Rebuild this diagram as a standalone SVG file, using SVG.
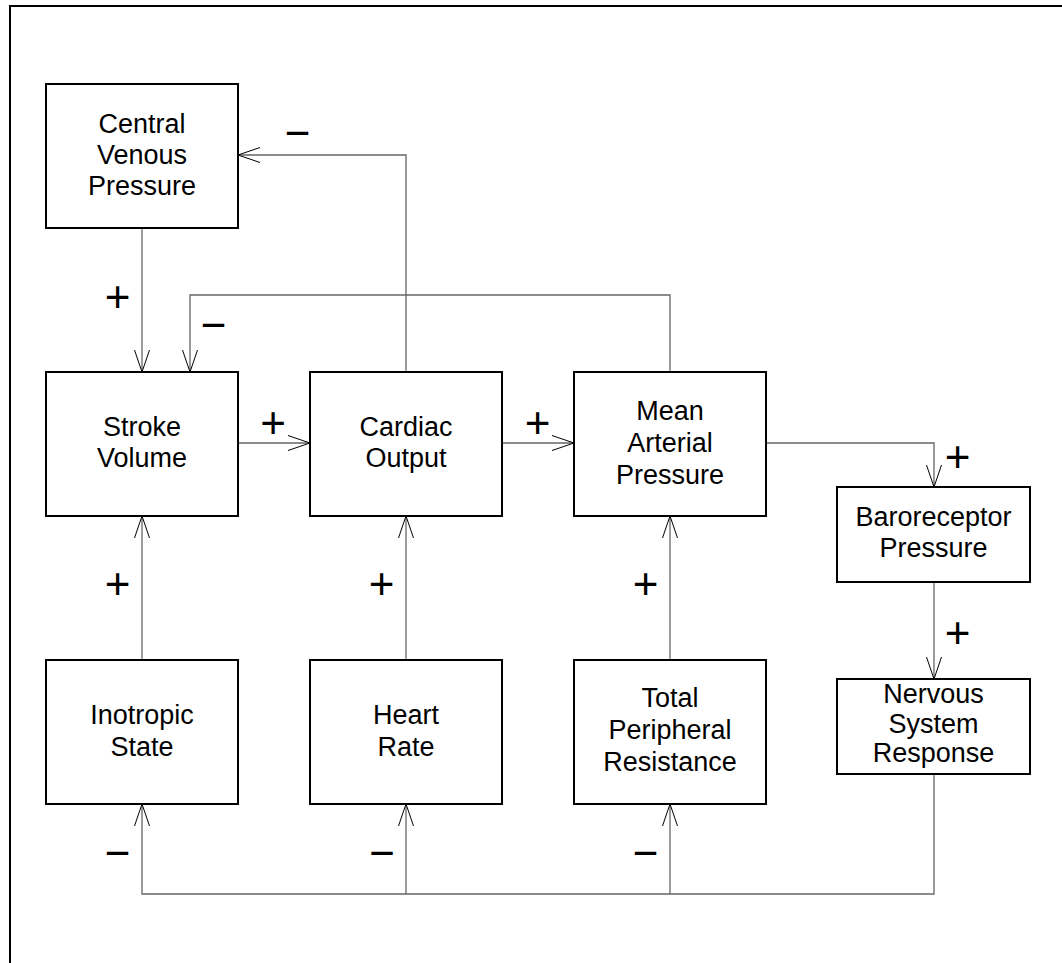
<svg xmlns="http://www.w3.org/2000/svg" width="1062" height="963" viewBox="0 0 1062 963">
<style>
.box{fill:#fff;stroke:#000;stroke-width:2}
.lbl{font-family:"Liberation Sans",Arial,sans-serif;font-size:27px;fill:#000;text-anchor:middle}
.sign{font-family:"Liberation Sans",Arial,sans-serif;font-size:44px;fill:#000;text-anchor:middle}
.conn{fill:none;stroke:#666;stroke-width:1.3}
.head{fill:none;stroke:#000;stroke-width:1}
</style>
<rect width="1062" height="963" fill="#fff"/>
<rect x="10" y="6" width="1100" height="1000" fill="none" stroke="#000" stroke-width="2"/>
<g id="connectors">
<path class="conn" d="M142,228 V372"/>
<path class="conn" d="M670,372 V295 H190 V372"/>
<path class="conn" d="M406,372 V155 H238"/>
<path class="conn" d="M238,443 H310"/>
<path class="conn" d="M502,443 H574"/>
<path class="conn" d="M766,443 H934 V487"/>
<path class="conn" d="M934,582 V679"/>
<path class="conn" d="M142,660 V516"/>
<path class="conn" d="M406,660 V516"/>
<path class="conn" d="M670,660 V516"/>
<path class="conn" d="M934,774 V894 H142 V804"/>
<path class="conn" d="M406,894 V804"/>
<path class="conn" d="M670,894 V804"/>
<path class="head" d="M134.5,350 L142,372 L149.5,350"/>
<path class="head" d="M182.5,350 L190,372 L197.5,350"/>
<path class="head" d="M260,147.5 L238,155 L260,162.5"/>
<path class="head" d="M288,435.5 L310,443 L288,450.5"/>
<path class="head" d="M552,435.5 L574,443 L552,450.5"/>
<path class="head" d="M926.5,465 L934,487 L941.5,465"/>
<path class="head" d="M926.5,657 L934,679 L941.5,657"/>
<path class="head" d="M134.5,538 L142,516 L149.5,538"/>
<path class="head" d="M398.5,538 L406,516 L413.5,538"/>
<path class="head" d="M662.5,538 L670,516 L677.5,538"/>
<path class="head" d="M134.5,826 L142,804 L149.5,826"/>
<path class="head" d="M398.5,826 L406,804 L413.5,826"/>
<path class="head" d="M662.5,826 L670,804 L677.5,826"/>
<text class="sign" x="117.5" y="311.5">+</text>
<text class="sign" x="297.5" y="148">−</text>
<text class="sign" x="213.5" y="340">−</text>
<text class="sign" x="273" y="437.5">+</text>
<text class="sign" x="537.5" y="437.5">+</text>
<text class="sign" x="957.5" y="472">+</text>
<text class="sign" x="957.5" y="647.5">+</text>
<text class="sign" x="117.5" y="598.5">+</text>
<text class="sign" x="381.5" y="598.5">+</text>
<text class="sign" x="645.5" y="598.5">+</text>
<text class="sign" x="117.5" y="868">−</text>
<text class="sign" x="382" y="868">−</text>
<text class="sign" x="645.5" y="868">−</text>
</g>
<g id="cvp"><rect class="box" x="46" y="84" width="192" height="144"/>
<text class="lbl" x="142" y="133">Central</text><text class="lbl" x="142" y="164">Venous</text><text class="lbl" x="142" y="195">Pressure</text></g>
<g id="sv"><rect class="box" x="46" y="372" width="192" height="144"/>
<text class="lbl" x="142" y="436">Stroke</text><text class="lbl" x="142" y="467">Volume</text></g>
<g id="co"><rect class="box" x="310" y="372" width="192" height="144"/>
<text class="lbl" x="406" y="436">Cardiac</text><text class="lbl" x="406" y="467">Output</text></g>
<g id="map"><rect class="box" x="574" y="372" width="192" height="144"/>
<text class="lbl" x="670" y="420">Mean</text><text class="lbl" x="670" y="452">Arterial</text><text class="lbl" x="670" y="484">Pressure</text></g>
<g id="baro"><rect class="box" x="837" y="487" width="193" height="95"/>
<text class="lbl" x="933.5" y="526">Baroreceptor</text><text class="lbl" x="933.5" y="557">Pressure</text></g>
<g id="nsr"><rect class="box" x="837" y="679" width="193" height="95"/>
<text class="lbl" x="933.5" y="703">Nervous</text><text class="lbl" x="933.5" y="733">System</text><text class="lbl" x="933.5" y="762">Response</text></g>
<g id="ino"><rect class="box" x="46" y="660" width="192" height="144"/>
<text class="lbl" x="142" y="724">Inotropic</text><text class="lbl" x="142" y="756">State</text></g>
<g id="hr"><rect class="box" x="310" y="660" width="192" height="144"/>
<text class="lbl" x="406" y="724">Heart</text><text class="lbl" x="406" y="756">Rate</text></g>
<g id="tpr"><rect class="box" x="574" y="660" width="192" height="144"/>
<text class="lbl" x="670" y="707">Total</text><text class="lbl" x="670" y="739">Peripheral</text><text class="lbl" x="670" y="771">Resistance</text></g>
</svg>
